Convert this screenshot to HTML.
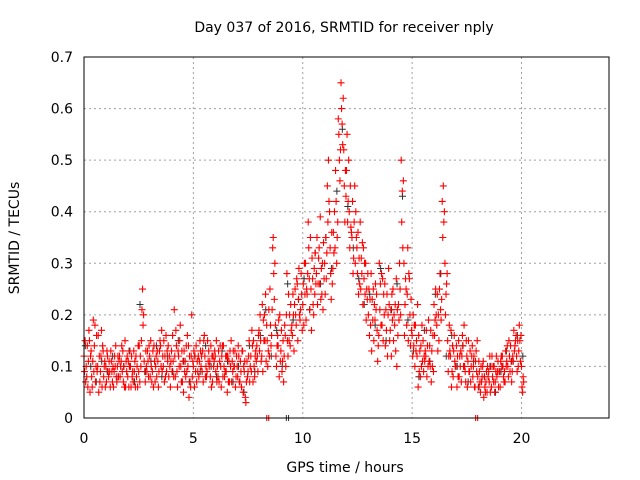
<!DOCTYPE html>
<html><head><meta charset="utf-8"><style>
body{margin:0;background:#fff}
svg{display:block;font-family:"DejaVu Sans","Liberation Sans",sans-serif}
</style></head><body>
<svg id="chart" width="640" height="480">
<rect width="640" height="480" fill="#fff"/>
<text x="344" y="32" font-size="14" text-anchor="middle">Day 037 of 2016, SRMTID for receiver nply</text>
<text x="345" y="472" font-size="14" text-anchor="middle">GPS time / hours</text>
<text transform="translate(19,238) rotate(-90)" font-size="14" text-anchor="middle">SRMTID / TECUs</text>
<g id="grid"></g>
<g id="ticks"></g>
<g id="blk"></g>
<g id="red"></g>
<rect x="84" y="57" width="525" height="361" fill="none" stroke="#000" stroke-width="1"/>
</svg>
<script>
const xTicks=[0,5,10,15,20];
const yTicks=[0,0.1,0.2,0.3,0.4,0.5,0.6,0.7];
const yTickLabels=["0","0.1","0.2","0.3","0.4","0.5","0.6","0.7"];
const redStart=0, redStep=0.125;
const redA=[.12,.08,.15,.06,.18,.10,.09,.13, .10,.08,.11,.09,.07,.12,.09,.15, .08,.10,.07,.12,.09,.15,.11,.09, .12,.09,.07,.11,.14,.10,.16,.08, .13,.21,.09,.15,.07,.11,.10,.06, .10,.14,.08,.12,.16,.09,.11,.07, .12,.08,.10,.14,.09,.11,.07,.10, .10,.07,.13,.04,.09,.12,.15,.11, .17,.12,.20,.15,.25,.33,.18,.14, .13,.07,.20,.15,.18,.22,.26,.19, .22,.30,.38,.25,.20,.28,.33,.24, .30,.45,.33,.29,.48,.58,.65,.52, .48,.40,.35,.45,.28,.38,.22,.30, .20,.28,.15,.24,.30,.18,.26,.12, .17,.25,.13,.22,.50,.30,.18,.27, .16,.10,.22,.08,.15,.12,.19,.07, .22,.18,.25,.42,.30,.15,.12,.08, .10,.15,.07,.18,.12,.09,.14,.06, .08,.05,.11,.07,.09,.06,.10,.08, .09,.12,.07,.10,.14,.11,.16,.13, .10];
const redB=[.09,.14,.05,.11,.07,.16,.12,.08, .07,.11,.09,.12,.10,.08,.13,.06, .11,.06,.13,.08,.14,.21,.09,.13, .08,.13,.10,.06,.10,.15,.09,.12, .09,.12,.06,.18,.11,.08,.14,.12, .13,.07,.11,.09,.12,.15,.08,.12, .09,.13,.06,.10,.12,.07,.11,.13, .08,.11,.05,.03,.12,.09,.10,.14, .13,.22,.15,.10,.18,.35,.12,.19, .17,.12,.28,.20,.16,.25,.15,.21, .26,.19,.33,.17,.29,.35,.26,.30, .24,.38,.28,.36,.42,.55,.60,.45, .55,.33,.42,.30,.36,.25,.33,.19, .25,.13,.22,.17,.21,.27,.14,.20, .21,.15,.27,.19,.38,.16,.24,.20, .12,.18,.06,.14,.09,.17,.11,.13, .16,.24,.28,.35,.20,.09,.17,.13, .14,.08,.12,.10,.06,.13,.08,.11, .06,.10,.04,.09,.07,.12,.05,.09, .06,.10,.13,.08,.11,.17,.12,.18, .06];
const redC=[.15,.06,.12,.19,.10,.05,.17,.10, .13,.09,.07,.10,.12,.10,.07,.11, .06,.12,.09,.10,.07,.25,.07,.11, .15,.06,.12,.09,.17,.07,.13,.10, .16,.08,.13,.10,.05,.14,.04,.20, .06,.11,.15,.13,.08,.11,.14,.10, .15,.07,.12,.08,.05,.13,.09,.06, .14,.09,.10,.07,.15,.17,.08,.12, .20,.09,.24,.13,.14,.28,.10,.08, .09,.18,.15,.14,.24,.20,.23,.28, .18,.25,.27,.31,.24,.22,.39,.21, .35,.50,.23,.32,.30,.50,.57,.38, .38,.45,.28,.40,.24,.31,.27,.25, .16,.23,.19,.11,.26,.15,.21,.29, .12,.20,.10,.30,.44,.22,.33,.14, .20,.13,.16,.10,.12,.08,.14,.10, .19,.13,.21,.45,.24,.12,.06,.16, .06,.12,.16,.09,.11,.07,.10,.13, .11,.07,.08,.05,.12,.08,.07,.11, .11,.08,.10,.15,.07,.13,.09,.15, .05];
const redD=[.07,.11,.13,.09,.16,.12,.06,.11, .12,.06,.10,.14,.08,.11,.10,.09, .10,.08,.11,.06,.12,.18,.13,.08, .10,.14,.08,.13,.09,.12,.11,.06, .11,.17,.12,.07,.13,.09,.12,.08, .12,.09,.13,.07,.10,.13,.06,.11, .07,.11,.14,.09,.12,.10,.13,.08, .12,.06,.09,.11,.07,.14,.12,.09, .15,.19,.11,.21,.16,.23,.14,.20, .11,.16,.12,.22,.20,.18,.29,.24, .30,.24,.21,.27,.32,.26,.23,.34, .27,.42,.36,.40,.35,.46,.53,.48, .42,.37,.31,.35,.31,.28,.30,.23, .23,.19,.26,.14,.18,.24,.17,.22, .24,.18,.21,.25,.33,.27,.15,.23, .14,.15,.09,.18,.11,.14,.10,.16, .25,.20,.19,.38,.26,.18,.09,.11, .12,.10,.14,.07,.15,.10,.12,.09, .09,.08,.06,.10,.05,.10,.09,.06, .12,.07,.11,.12,.09,.14,.15,.11, .08];
const redE=[.10,.17,.08,.14,.09,.07,.14,.06, .09,.13,.06,.08,.11,.14,.06,.12, .13,.09,.06,.14,.10,.20,.10,.14, .07,.11,.13,.15,.12,.08,.14,.11, .08,.14,.10,.13,.09,.16,.07,.11, .09,.12,.10,.15,.08,.10,.12,.13, .10,.14,.08,.12,.07,.15,.10,.12, .07,.13,.11,.08,.10,.07,.13,.16, .11,.15,.18,.12,.21,.30,.16,.11, .15,.10,.24,.17,.13,.27,.20,.17, .24,.28,.35,.22,.26,.31,.29,.27, .32,.40,.26,.33,.38,.52,.62,.43, .50,.36,.38,.33,.26,.34,.24,.28, .18,.25,.21,.16,.28,.20,.24,.15, .19,.22,.16,.20,.46,.25,.28,.17, .18,.12,.13,.11,.13,.10,.17,.09, .20,.15,.23,.40,.28,.13,.14,.10, .08,.13,.10,.15,.09,.12,.06,.15, .07,.10,.05,.08,.10,.07,.12,.09, .10,.09,.14,.09,.12,.15,.10,.16, .07];
const blkStart=0.06, blkStep=0.25;
const blkV=[.14,.10,.07,.11,.09,.12,.08,.10,.13,.07,.22,.09,.11,.14,.08,.12,.09,.15,.11,.07,
.12,.09,.14,.10,.08,.13,.11,.07,.10,.05,.14,.09,.16,.21,.12,.17,.10,.26,.19,.23,
.27,.21,.32,.26,.35,.29,.44,.56,.41,.33,.27,.22,.24,.18,.29,.15,.21,.26,.43,.19,
.13,.08,.17,.11,.24,.28,.12,.16,.10,.14,.07,.11,.06,.08,.10,.05,.09,.13,.11,.16,.12];
const redZeroT=[8.4,17.95];
const blkZeroT=[9.25,9.35];

const X0=84,X1=609,Y0=418,Y1=57,XMAX=24,YMAX=0.7;
const sx=t=>X0+t/XMAX*(X1-X0);
const sy=v=>Y0-v/YMAX*(Y0-Y1);
const NS="http://www.w3.org/2000/svg";
function mk(tag,parent,attrs){const e=document.createElementNS(NS,tag);for(const k in attrs)e.setAttribute(k,attrs[k]);parent.appendChild(e);return e;}
const grid=document.getElementById('grid'),ticks=document.getElementById('ticks');
xTicks.forEach(t=>{const x=sx(t);
 if(t>0){const g=mk('line',grid,{x1:x,x2:x,y1:Y1,y2:Y0,stroke:'#a0a0a0','stroke-dasharray':'2,3'});
 
 }
 const l=mk('text',ticks,{x:x,y:443,'font-size':14,'text-anchor':'middle'});l.textContent=t;
 
 
});
yTicks.forEach((v,i)=>{const y=sy(v);
 if(i>0&&i<yTicks.length-1){const g=mk('line',grid,{x1:X0,x2:X1,y1:y,y2:y,stroke:'#a0a0a0','stroke-dasharray':'2,3'});
 
 }
 const l=mk('text',ticks,{x:73,y:y+5,'font-size':14,'text-anchor':'end'});l.textContent=yTickLabels[i];
 
 
});
function plus(t,v){const x=sx(t),y=sy(v);return `M${x-3.5},${y}h7M${x},${y-3.5}v7`;}
let bd='';blkV.forEach((v,i)=>{bd+=plus(blkStart+i*blkStep,v);});
blkZeroT.forEach(t=>{const x=sx(t);bd+=`M${x},${Y0-3}v6`;});
const bp=mk('path',document.getElementById('blk'),{d:bd,stroke:'#303030','stroke-width':1,fill:'none'});


let rd='';[redA,redB,redC,redD,redE].forEach((arr,k)=>arr.forEach((v,i)=>{rd+=plus(redStart+i*redStep+k*0.025,v);}));
redZeroT.forEach(t=>{const x=sx(t);rd+=`M${x-1},${Y0-3}v6M${x+1},${Y0-3}v6`;});
const rp=mk('path',document.getElementById('red'),{d:rd,stroke:'#ff0000','stroke-width':1.1,fill:'none'});


</script>
</body></html>
